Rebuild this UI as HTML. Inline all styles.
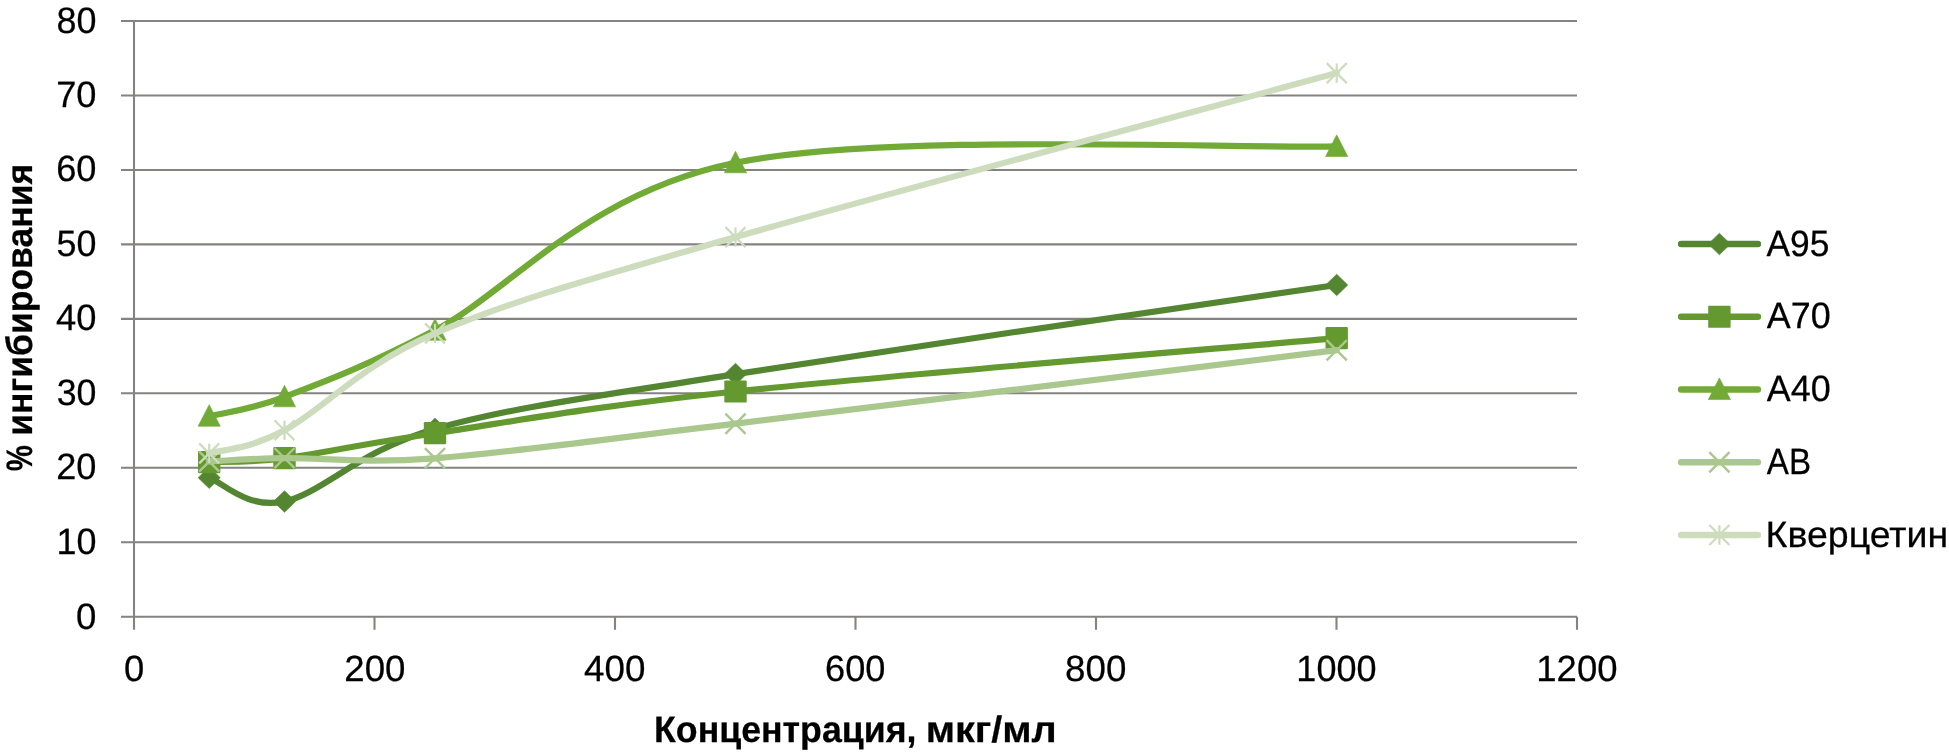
<!DOCTYPE html><html><head><meta charset="utf-8"><style>html,body{margin:0;padding:0;background:#fff;width:1949px;height:754px;overflow:hidden}svg{display:block;will-change:transform}text{font-family:"Liberation Sans",sans-serif;fill:#000;text-rendering:geometricPrecision;stroke:#000;stroke-width:0.25px}</style></head><body>
<svg width="1949" height="754" viewBox="0 0 1949 754">
<rect width="1949" height="754" fill="#fff"/>
<path d="M121 616.70H1577 M121 542.24H1577 M121 467.78H1577 M121 393.31H1577 M121 318.85H1577 M121 244.39H1577 M121 169.93H1577 M121 95.46H1577 M121 21.00H1577" stroke="#858381" stroke-width="2.1" fill="none"/>
<path d="M134 19.95V629.8" stroke="#858381" stroke-width="2.1" fill="none"/>
<path d="M374.50 616.70V629.8 M615.00 616.70V629.8 M855.50 616.70V629.8 M1096.00 616.70V629.8 M1336.50 616.70V629.8 M1577.00 616.70V629.8" stroke="#858381" stroke-width="2.1" fill="none"/>
<path d="M209.20 477.70 C221.75 481.67 246.87 509.63 284.50 501.50 C322.13 493.37 359.83 450.13 435.00 428.90 C510.17 407.67 585.22 398.08 735.50 374.10 C885.78 350.12 1236.50 299.85 1336.70 285.00" stroke="#548632" stroke-width="6.20" fill="none" stroke-linecap="round" stroke-linejoin="round"/>
<path d="M209.20 466.90 L220.30 477.70 L209.20 488.50 L198.10 477.70 Z" fill="#548632" stroke="#548632" stroke-width="0.6" stroke-linejoin="round"/>
<path d="M284.50 490.70 L295.60 501.50 L284.50 512.30 L273.40 501.50 Z" fill="#548632" stroke="#548632" stroke-width="0.6" stroke-linejoin="round"/>
<path d="M435.00 418.10 L446.10 428.90 L435.00 439.70 L423.90 428.90 Z" fill="#548632" stroke="#548632" stroke-width="0.6" stroke-linejoin="round"/>
<path d="M735.50 363.30 L746.60 374.10 L735.50 384.90 L724.40 374.10 Z" fill="#548632" stroke="#548632" stroke-width="0.6" stroke-linejoin="round"/>
<path d="M1336.70 274.20 L1347.80 285.00 L1336.70 295.80 L1325.60 285.00 Z" fill="#548632" stroke="#548632" stroke-width="0.6" stroke-linejoin="round"/>
<path d="M209.20 462.20 C221.75 461.52 246.87 462.93 284.50 458.10 C322.13 453.27 359.83 444.30 435.00 433.20 C510.17 422.10 585.22 407.33 735.50 391.50 C885.78 375.67 1236.50 347.08 1336.70 338.20" stroke="#64992F" stroke-width="6.20" fill="none" stroke-linecap="round" stroke-linejoin="round"/>
<rect x="198.00" y="451.10" width="22.4" height="22.2" rx="1.2" fill="#64992F"/>
<rect x="273.30" y="447.00" width="22.4" height="22.2" rx="1.2" fill="#64992F"/>
<rect x="423.80" y="422.10" width="22.4" height="22.2" rx="1.2" fill="#64992F"/>
<rect x="724.30" y="380.40" width="22.4" height="22.2" rx="1.2" fill="#64992F"/>
<rect x="1325.50" y="327.10" width="22.4" height="22.2" rx="1.2" fill="#64992F"/>
<path d="M209.20 416.20 C221.75 412.97 246.87 411.13 284.50 396.80 C322.13 382.47 359.83 369.20 435.00 330.20 C510.17 291.20 585.22 193.43 735.50 162.80 C885.78 132.17 1236.50 149.13 1336.70 146.40" stroke="#71AA34" stroke-width="6.20" fill="none" stroke-linecap="round" stroke-linejoin="round"/>
<path d="M209.20 404.65 L220.30 426.25 L198.10 426.25 Z" fill="#71AA34" stroke="#71AA34" stroke-width="0.6" stroke-linejoin="round"/>
<path d="M284.50 385.25 L295.60 406.85 L273.40 406.85 Z" fill="#71AA34" stroke="#71AA34" stroke-width="0.6" stroke-linejoin="round"/>
<path d="M435.00 318.65 L446.10 340.25 L423.90 340.25 Z" fill="#71AA34" stroke="#71AA34" stroke-width="0.6" stroke-linejoin="round"/>
<path d="M735.50 151.25 L746.60 172.85 L724.40 172.85 Z" fill="#71AA34" stroke="#71AA34" stroke-width="0.6" stroke-linejoin="round"/>
<path d="M1336.70 134.85 L1347.80 156.45 L1325.60 156.45 Z" fill="#71AA34" stroke="#71AA34" stroke-width="0.6" stroke-linejoin="round"/>
<path d="M209.20 461.50 C221.75 460.93 246.87 458.63 284.50 458.10 C322.13 457.57 359.83 464.03 435.00 458.30 C510.17 452.57 585.22 441.72 735.50 423.70 C885.78 405.68 1236.50 362.45 1336.70 350.20" stroke="#AAC88E" stroke-width="6.20" fill="none" stroke-linecap="round" stroke-linejoin="round"/>
<path d="M199.10 451.40 L219.30 471.60 M199.10 471.60 L219.30 451.40" stroke="#AAC88E" stroke-width="2.4" fill="none"/>
<path d="M274.40 448.00 L294.60 468.20 M274.40 468.20 L294.60 448.00" stroke="#AAC88E" stroke-width="2.4" fill="none"/>
<path d="M424.90 448.20 L445.10 468.40 M424.90 468.40 L445.10 448.20" stroke="#AAC88E" stroke-width="2.4" fill="none"/>
<path d="M725.40 413.60 L745.60 433.80 M725.40 433.80 L745.60 413.60" stroke="#AAC88E" stroke-width="2.4" fill="none"/>
<path d="M1326.60 340.10 L1346.80 360.30 M1326.60 360.30 L1346.80 340.10" stroke="#AAC88E" stroke-width="2.4" fill="none"/>
<path d="M209.20 453.40 C221.75 449.55 246.87 450.30 284.50 430.30 C322.13 410.30 359.83 365.60 435.00 333.40 C510.17 301.20 585.22 280.48 735.50 237.10 C885.78 193.72 1236.50 100.43 1336.70 73.10" stroke="#CDDCBD" stroke-width="6.20" fill="none" stroke-linecap="round" stroke-linejoin="round"/>
<path d="M199.20 443.40 L219.20 463.40 M199.20 463.40 L219.20 443.40 M209.20 443.70 L209.20 463.10" stroke="#CDDCBD" stroke-width="2.2" fill="none"/>
<path d="M274.50 420.30 L294.50 440.30 M274.50 440.30 L294.50 420.30 M284.50 420.60 L284.50 440.00" stroke="#CDDCBD" stroke-width="2.2" fill="none"/>
<path d="M425.00 323.40 L445.00 343.40 M425.00 343.40 L445.00 323.40 M435.00 323.70 L435.00 343.10" stroke="#CDDCBD" stroke-width="2.2" fill="none"/>
<path d="M725.50 227.10 L745.50 247.10 M725.50 247.10 L745.50 227.10 M735.50 227.40 L735.50 246.80" stroke="#CDDCBD" stroke-width="2.2" fill="none"/>
<path d="M1326.70 63.10 L1346.70 83.10 M1326.70 83.10 L1346.70 63.10 M1336.70 63.40 L1336.70 82.80" stroke="#CDDCBD" stroke-width="2.2" fill="none"/>
<text transform="translate(76.07 628.63) scale(0.9975 1)" font-size="36.71">0</text>
<text transform="translate(56.47 553.63) scale(0.9782 1)" font-size="36.71">10</text>
<text transform="translate(56.18 478.73) scale(0.9854 1)" font-size="36.71">20</text>
<text transform="translate(56.63 404.63) scale(0.9740 1)" font-size="36.71">30</text>
<text transform="translate(56.07 329.63) scale(0.9882 1)" font-size="36.71">40</text>
<text transform="translate(56.54 255.73) scale(0.9762 1)" font-size="36.71">50</text>
<text transform="translate(56.16 180.63) scale(0.9859 1)" font-size="36.71">60</text>
<text transform="translate(56.14 106.73) scale(0.9863 1)" font-size="36.71">70</text>
<text transform="translate(56.44 32.83) scale(0.9789 1)" font-size="36.71">80</text>
<text transform="translate(123.98 680.54) scale(0.9995 1)" font-size="36.43">0</text>
<text transform="translate(344.26 680.54) scale(1.0066 1)" font-size="36.43">200</text>
<text transform="translate(584.06 680.54) scale(1.0100 1)" font-size="36.43">400</text>
<text transform="translate(825.11 680.54) scale(0.9931 1)" font-size="36.43">600</text>
<text transform="translate(1065.10 680.54) scale(1.0092 1)" font-size="36.43">800</text>
<text transform="translate(1296.36 680.54) scale(0.9892 1)" font-size="36.43">1000</text>
<text transform="translate(1536.32 680.54) scale(1.0022 1)" font-size="36.43">1200</text>
<text transform="translate(654.01 742.10) scale(0.9707 1)" font-size="36.80" font-weight="bold">Концентрация,</text>
<text transform="translate(925.63 742.10) scale(1.0767 1)" font-size="36.80" font-weight="bold">мкг/мл</text>
<text transform="translate(32.1 471.13) rotate(-90) scale(0.7978 1)" font-size="36.80" font-weight="bold">%</text>
<text transform="translate(32.1 435.86) rotate(-90) scale(0.9646 1)" font-size="36.80" font-weight="bold">ингибирования</text>
<path d="M1681.1 244.00H1757.9" stroke="#548632" stroke-width="6.5" stroke-linecap="round"/>
<path d="M1719.40 233.20 L1730.50 244.00 L1719.40 254.80 L1708.30 244.00 Z" fill="#548632" stroke="#548632" stroke-width="0.6" stroke-linejoin="round"/>
<text transform="translate(1766.51 255.50) scale(0.9671 1)" font-size="36.60">А95</text>
<path d="M1681.1 316.75H1757.9" stroke="#64992F" stroke-width="6.5" stroke-linecap="round"/>
<rect x="1708.20" y="305.65" width="22.4" height="22.2" rx="1.2" fill="#64992F"/>
<text transform="translate(1766.81 327.50) scale(0.9812 1)" font-size="36.60">А70</text>
<path d="M1681.1 389.50H1757.9" stroke="#71AA34" stroke-width="6.5" stroke-linecap="round"/>
<path d="M1719.40 377.95 L1730.50 399.55 L1708.30 399.55 Z" fill="#71AA34" stroke="#71AA34" stroke-width="0.6" stroke-linejoin="round"/>
<text transform="translate(1766.81 400.50) scale(0.9812 1)" font-size="36.60">А40</text>
<path d="M1681.1 462.25H1757.9" stroke="#AAC88E" stroke-width="6.5" stroke-linecap="round"/>
<path d="M1709.30 452.15 L1729.50 472.35 M1709.30 472.35 L1729.50 452.15" stroke="#AAC88E" stroke-width="2.4" fill="none"/>
<text transform="translate(1766.81 473.70) scale(0.9061 1)" font-size="36.60">АВ</text>
<path d="M1681.1 535.00H1757.9" stroke="#CDDCBD" stroke-width="6.5" stroke-linecap="round"/>
<path d="M1709.40 525.00 L1729.40 545.00 M1709.40 545.00 L1729.40 525.00 M1719.40 525.30 L1719.40 544.70" stroke="#CDDCBD" stroke-width="2.2" fill="none"/>
<text transform="translate(1765.62 546.90) scale(1.0253 1)" font-size="36.60">Кверцетин</text>
</svg></body></html>
